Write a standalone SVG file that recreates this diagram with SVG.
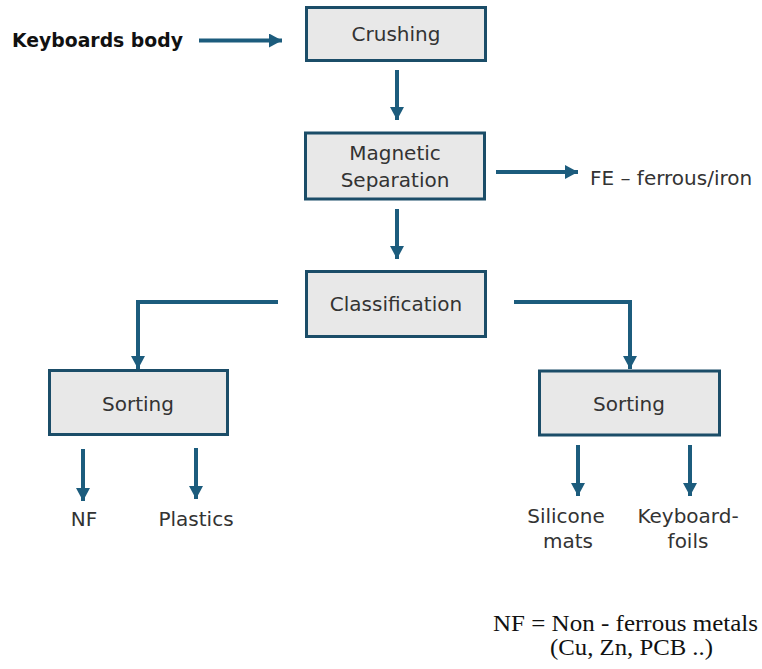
<svg xmlns="http://www.w3.org/2000/svg" width="762" height="669" viewBox="0 0 762 669">
  <style>
    .box { fill: #e8e8e8; stroke: #1b4d68; stroke-width: 3; }
    .lbl { font-family: "DejaVu Sans", "Liberation Sans", sans-serif; font-size: 20px; fill: #333333; text-anchor: middle; }
    .out { font-family: "DejaVu Sans", "Liberation Sans", sans-serif; font-size: 20px; fill: #333333; }
    .flow { fill: none; stroke: #1c5c7d; stroke-width: 4; marker-end: url(#head); }
    .note { font-family: "Liberation Serif", "Times New Roman", serif; font-size: 23px; fill: #111111; }
  </style>
  <defs>
    <marker id="head" markerUnits="userSpaceOnUse" markerWidth="16" markerHeight="16" refX="13" refY="7" orient="auto">
      <path d="M0,0 L13,7 L0,14 Z" fill="#1c5c7d"/>
    </marker>
  </defs>
  <rect width="762" height="669" fill="#ffffff"/>

  <!-- connectors -->
  <g id="connectors">
    <line class="flow" x1="199" y1="40.5" x2="282" y2="40.5"/>
    <line class="flow" x1="397" y1="70" x2="397" y2="120"/>
    <line class="flow" x1="496" y1="172" x2="578" y2="172"/>
    <line class="flow" x1="397" y1="209" x2="397" y2="259"/>
    <polyline class="flow" points="278,302 138,302 138,369"/>
    <polyline class="flow" points="514,302 630,302 630,369"/>
    <line class="flow" x1="83" y1="449" x2="83" y2="501"/>
    <line class="flow" x1="196" y1="448" x2="196" y2="499"/>
    <line class="flow" x1="578" y1="445" x2="578" y2="496"/>
    <line class="flow" x1="690" y1="445" x2="690" y2="496"/>
  </g>

  <!-- input label -->
  <g id="input">
    <text x="12" y="47" font-family="DejaVu Sans, Liberation Sans, sans-serif" font-size="20" font-weight="bold" fill="#111111" textLength="171" lengthAdjust="spacingAndGlyphs">Keyboards body</text>
  </g>

  <!-- process steps -->
  <g id="crushing">
    <rect class="box" x="306.5" y="7.5" width="179" height="53"/>
    <text class="lbl" x="396" y="41">Crushing</text>
  </g>
  <g id="magnetic-separation">
    <rect class="box" x="305.5" y="133" width="179" height="66"/>
    <text class="lbl" x="395" y="160">Magnetic</text>
    <text class="lbl" x="395" y="187">Separation</text>
  </g>
  <g id="classification">
    <rect class="box" x="306.5" y="271.5" width="179" height="65"/>
    <text class="lbl" x="396" y="311">Classification</text>
  </g>
  <g id="sorting-left">
    <rect class="box" x="49.5" y="370.5" width="178" height="64"/>
    <text class="lbl" x="138" y="411">Sorting</text>
  </g>
  <g id="sorting-right">
    <rect class="box" x="539.5" y="371" width="180" height="64"/>
    <text class="lbl" x="629" y="411">Sorting</text>
  </g>

  <!-- outputs -->
  <g id="fe-output">
    <text class="out" x="590" y="185">FE – ferrous/iron</text>
  </g>
  <g id="nf-output">
    <text class="lbl" x="84" y="526">NF</text>
  </g>
  <g id="plastics-output">
    <text class="lbl" x="196" y="526">Plastics</text>
  </g>
  <g id="silicone-output">
    <text class="lbl" x="566" y="523">Silicone</text>
    <text class="lbl" x="568" y="548">mats</text>
  </g>
  <g id="foils-output">
    <text class="lbl" x="688" y="523">Keyboard-</text>
    <text class="lbl" x="688" y="548">foils</text>
  </g>

  <!-- legend -->
  <g id="legend">
    <text class="note" x="493" y="631" textLength="265" lengthAdjust="spacingAndGlyphs">NF = Non - ferrous metals</text>
    <text class="note" x="550" y="655" textLength="163" lengthAdjust="spacingAndGlyphs">(Cu, Zn, PCB ..)</text>
  </g>
</svg>
